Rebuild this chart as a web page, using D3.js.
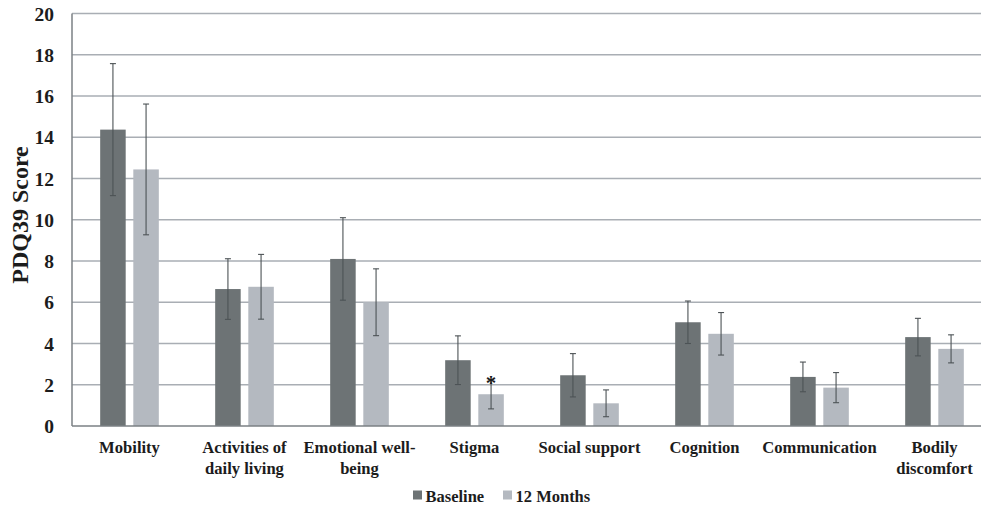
<!DOCTYPE html>
<html>
<head>
<meta charset="utf-8">
<script src="https://cdn.jsdelivr.net/npm/d3@7"></script>
<style>
  html, body { margin: 0; padding: 0; background: #fff; }
  svg { display: block; }
  svg text { font-family: "Liberation Serif", "Times New Roman", serif; }
</style>
</head>
<body>
<svg id="chart" width="981" height="506"></svg>
<script>
// PDQ39 domain scores at baseline and after 12 months (mean ± error)
const categories = [
  ["Mobility"],
  ["Activities of", "daily living"],
  ["Emotional well-", "being"],
  ["Stigma"],
  ["Social support"],
  ["Cognition"],
  ["Communication"],
  ["Bodily", "discomfort"]
];
const seriesNames = ["Baseline", "12 Months"];
const baselineValues = [14.37, 6.64, 8.10, 3.19, 2.46, 5.03, 2.38, 4.31];
const baselineErrors = [3.20, 1.47, 2.00, 1.18, 1.05, 1.03, 0.72, 0.91];
const monthsValues   = [12.44, 6.75, 6.00, 1.54, 1.10, 4.47, 1.86, 3.74];
const monthsErrors   = [3.17, 1.57, 1.62, 0.71, 0.65, 1.03, 0.73, 0.68];
const significant    = [false, false, false, true, false, false, false, false]; // 12-month change marked with *
const yTicks = [0, 2, 4, 6, 8, 10, 12, 14, 16, 18, 20];

const colors = { "Baseline": "#6d7375", "12 Months": "#b4b9c0" };
const textColor = "#1c1c1c";

const svg = d3.select("#chart");
const plotLeft = 72, plotRight = 992, plotTop = 13.5, plotBottom = 426;

const x = d3.scaleBand()
  .domain(d3.range(categories.length))
  .range([plotLeft, plotRight])
  .paddingInner(0.49)
  .paddingOuter(0.245);

const xSub = d3.scaleBand()
  .domain(seriesNames)
  .range([0, x.bandwidth()])
  .paddingInner(0.23);

const y = d3.scaleLinear().domain([0, 20]).range([plotBottom, plotTop]);

// Horizontal gridlines
svg.append("g")
  .selectAll("line")
  .data(yTicks.filter(d => d > 0))
  .join("line")
  .attr("x1", plotLeft).attr("x2", plotRight)
  .attr("y1", d => y(d)).attr("y2", d => y(d))
  .attr("stroke", "#a9aeb4")
  .attr("stroke-width", 1.3);

// Y axis tick labels
const yAxis = d3.axisLeft(y).tickValues(yTicks).tickSize(0).tickPadding(18);
const yg = svg.append("g").attr("transform", `translate(${plotLeft},0)`).call(yAxis);
yg.select(".domain").remove();
yg.selectAll("text")
  .attr("font-size", 19.5)
  .attr("font-weight", "bold")
  .attr("fill", textColor)
  .attr("dy", "0.34em");

// Y axis title
svg.append("text")
  .attr("transform", `translate(27.5, 215) rotate(-90)`)
  .attr("text-anchor", "middle")
  .attr("font-size", 24)
  .attr("font-weight", "bold")
  .attr("fill", textColor)
  .text("PDQ39 Score");

// Bars
const rows = categories.map((c, i) => ({
  i,
  bars: [
    { series: "Baseline", value: baselineValues[i], err: baselineErrors[i] },
    { series: "12 Months", value: monthsValues[i], err: monthsErrors[i], sig: significant[i] }
  ]
}));

const groups = svg.append("g")
  .selectAll("g")
  .data(rows)
  .join("g")
  .attr("transform", d => `translate(${x(d.i)},0)`);

groups.selectAll("rect")
  .data(d => d.bars)
  .join("rect")
  .attr("x", d => xSub(d.series))
  .attr("y", d => y(d.value))
  .attr("width", xSub.bandwidth())
  .attr("height", d => y(0) - y(d.value))
  .attr("fill", d => colors[d.series]);

// Error bars
const eb = groups.selectAll("g.err")
  .data(d => d.bars)
  .join("g")
  .attr("class", "err")
  .attr("stroke", "#4d5356")
  .attr("stroke-width", 1.1);
eb.append("line")
  .attr("x1", d => xSub(d.series) + xSub.bandwidth() / 2)
  .attr("x2", d => xSub(d.series) + xSub.bandwidth() / 2)
  .attr("y1", d => y(d.value + d.err))
  .attr("y2", d => y(d.value - d.err));
eb.each(function(d) {
  const cx = xSub(d.series) + xSub.bandwidth() / 2;
  [d.value + d.err, d.value - d.err].forEach(v => {
    d3.select(this).append("line")
      .attr("x1", cx - 3).attr("x2", cx + 3)
      .attr("y1", y(v)).attr("y2", y(v));
  });
});

// Significance marker
groups.selectAll("text.sig")
  .data(d => d.bars.filter(b => b.sig))
  .join("text")
  .attr("class", "sig")
  .attr("x", d => xSub(d.series) + xSub.bandwidth() / 2)
  .attr("y", d => y(d.value + d.err) + 10)
  .attr("text-anchor", "middle")
  .attr("font-size", 21)
  .attr("font-weight", "bold")
  .attr("fill", textColor)
  .text("*");

// Axis lines
svg.append("line")
  .attr("x1", plotLeft).attr("x2", plotLeft)
  .attr("y1", plotTop).attr("y2", plotBottom)
  .attr("stroke", "#7b8084").attr("stroke-width", 1.5);
svg.append("line")
  .attr("x1", plotLeft).attr("x2", plotRight)
  .attr("y1", plotBottom).attr("y2", plotBottom)
  .attr("stroke", "#7b8084").attr("stroke-width", 1.5);

// Category labels
const xl = svg.append("g")
  .selectAll("text")
  .data(rows)
  .join("text")
  .attr("x", d => x(d.i) + x.bandwidth() / 2)
  .attr("y", 452.5)
  .attr("text-anchor", "middle")
  .attr("font-size", 16.6)
  .attr("font-weight", "bold")
  .attr("fill", textColor);
xl.selectAll("tspan")
  .data(d => categories[d.i].map((t, k) => ({ t, k, cx: x(d.i) + x.bandwidth() / 2 })))
  .join("tspan")
  .attr("x", d => d.cx)
  .attr("dy", d => d.k === 0 ? 0 : 21)
  .text(d => d.t);

// Legend
const legend = svg.append("g").attr("transform", "translate(413, 490.5)");
const legendX = [0, 90];
seriesNames.forEach((s, k) => {
  const g = legend.append("g").attr("transform", `translate(${legendX[k]},0)`);
  g.append("rect").attr("width", 9).attr("height", 9).attr("fill", colors[s]);
  g.append("text")
    .attr("x", 12.5).attr("y", 11)
    .attr("font-size", 16.5)
    .attr("font-weight", "bold")
    .attr("fill", textColor)
    .text(s);
});
</script>
</body>
</html>
